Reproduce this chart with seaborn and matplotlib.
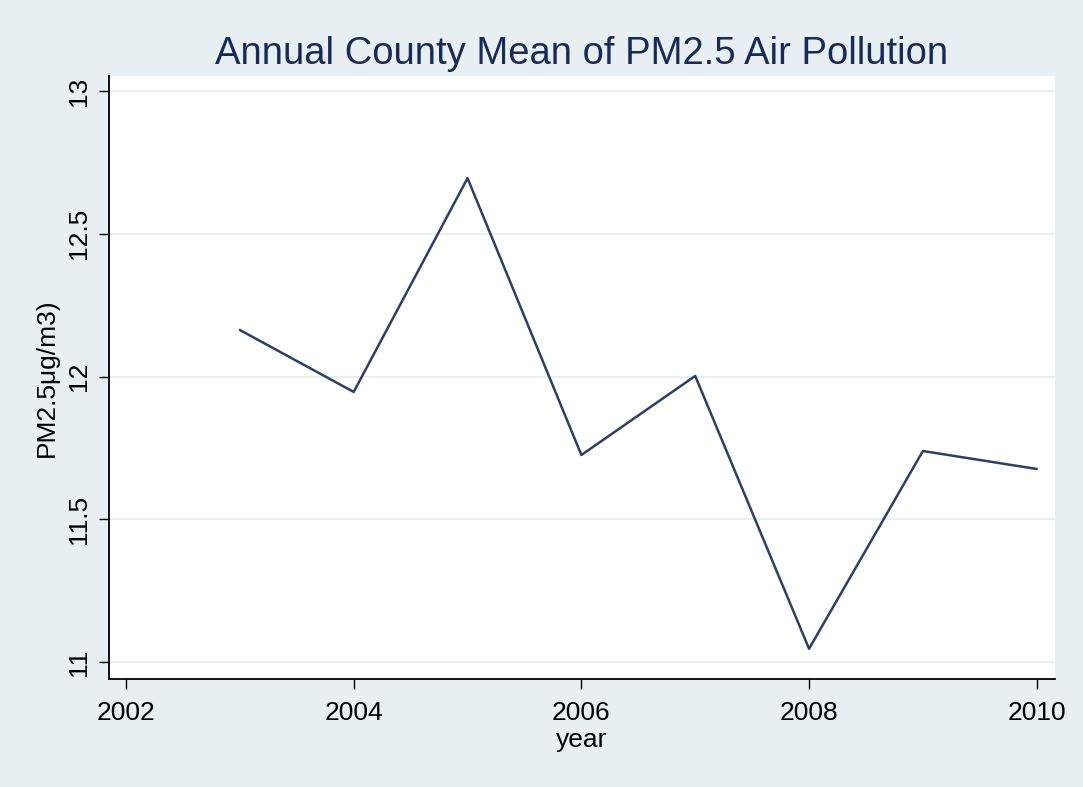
import numpy as np
import pandas as pd
import seaborn as sns
from matplotlib import pyplot as plt

years = [2003, 2004, 2005, 2006, 2007, 2008, 2009, 2010]
pm25 = [12.163, 11.946, 12.695, 11.725, 12.002, 11.046, 11.739, 11.676]

df = pd.DataFrame({'year': years, 'pm25': pm25})

BG = '#e8eff3'
NAVY = '#1a2a57'
LINE = '#2c4065'

sns.set_theme(style='white')
plt.rcParams['font.family'] = ['Liberation Sans', 'DejaVu Sans']

fig = plt.figure(figsize=(10.83, 7.87), dpi=100, facecolor=BG)
ax = fig.add_axes([0.1006, 0.1372, 0.8735, 0.7662])
ax.set_facecolor('white')

sns.lineplot(data=df, x='year', y='pm25', ax=ax, color=LINE, linewidth=1.8)

ax.set_xlim(2001.85, 2010.16)
ax.set_ylim(10.94, 13.053)
ax.set_xticks([2002, 2004, 2006, 2008, 2010])
ax.set_yticks([11, 11.5, 12, 12.5, 13])
ax.set_yticklabels(['11', '11.5', '12', '12.5', '13'], rotation=90, va='center')
ax.grid(axis='y', color=BG, linewidth=1.5)
ax.grid(axis='x', visible=False)

for s in ['top', 'right']:
    ax.spines[s].set_visible(False)
for s in ['left', 'bottom']:
    ax.spines[s].set_color('black')
    ax.spines[s].set_linewidth(1.3)

ax.tick_params(axis='both', direction='out', length=7, width=1, color='black',
               labelsize=19, labelcolor='black', left=True, bottom=True)
ax.tick_params(axis='x', pad=9)
ax.tick_params(axis='y', pad=6)

ax.set_xlabel('year', fontsize=19, color='black', labelpad=2)
ax.set_ylabel('PM2.5μg/m3)', fontsize=19, color='black', labelpad=6)
ax.set_title('Annual County Mean of PM2.5 Air Pollution', fontsize=27.5,
             color=NAVY, pad=9)

fig.savefig('out.png', dpi=100, facecolor=BG)
plt.close()
